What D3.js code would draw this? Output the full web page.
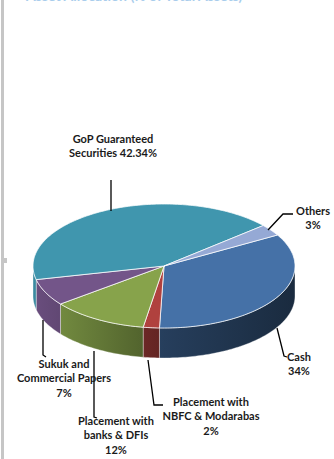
<!DOCTYPE html>
<html>
<head>
<meta charset="utf-8">
<script src="https://cdn.jsdelivr.net/npm/d3@7"></script>
<style>
  body { margin: 0; background: #fff; }
  text { font-family: Lato, "Open Sans", sans-serif; font-weight: bold; font-size: 11px; fill: #1a1a1a; }
</style>
</head>
<body>
<svg width="334" height="459"></svg>
<script>
// asset allocation
const categories = ["Cash", "Placement with NBFC & Modarabas", "Placement with banks & DFIs",
    "Sukuk and Commercial Papers", "GoP Guaranteed Securities", "Others"];
const values = [34, 2, 12, 7, 42.34, 3];
const labelLines = [
    ["Cash", "34%"],
    ["Placement with", "NBFC & Modarabas", "2%"],
    ["Placement with", "banks & DFIs", "12%"],
    ["Sukuk and", "Commercial Papers", "7%"],
    ["GoP Guaranteed", "Securities 42.34%"],
    ["Others", "3%"]
];
const colors = ["#4571a7", "#b0413e", "#87a34b", "#735589", "#4096ae", "#95a9d5"];

const svg = d3.select("svg");
const width = +svg.attr("width");
const height = +svg.attr("height");

// page frame bits (title is cropped off at the top in the original)
svg.append("rect").attr("x", 1).attr("y", 0).attr("width", 3).attr("height", height).attr("fill", "#c6c6c6");
svg.append("rect").attr("x", 4).attr("y", 258).attr("width", 3).attr("height", 5).attr("fill", "#c6c6c6");
svg.append("text").attr("x", 26).attr("y", 0.8)
    .style("fill", "#a9cdec").style("font-size", "14px")
    .text("Asset Allocation (% of Total Assets)");

const cx = 164, cy = 266, rx = 131, ry = 62, depth = 30;
const startAngle = 60 * Math.PI / 180;

const pie = d3.pie().sort(null).value(d => d)
    .startAngle(startAngle).endAngle(startAngle + 2 * Math.PI);
const arcs = pie(values);

const pt = (a, dy = 0) => [cx + rx * Math.sin(a), cy - ry * Math.cos(a) + dy];
const arcPts = (a0, a1, dy = 0) => {
    const n = Math.max(2, Math.ceil(Math.abs(a1 - a0) / 0.02));
    return d3.range(n + 1).map(i => pt(a0 + (a1 - a0) * i / n, dy));
};

// side gradients, lighter on the left, darker on the right
const defs = svg.append("defs");
colors.forEach((c, i) => {
    const base = d3.rgb(c);
    const shade = f => d3.rgb(base.r * f, base.g * f, base.b * f).formatHex();
    const grad = defs.append("linearGradient")
        .attr("id", "side" + i)
        .attr("gradientUnits", "userSpaceOnUse")
        .attr("x1", cx - rx).attr("x2", cx + rx).attr("y1", 0).attr("y2", 0);
    [[0, 0.92], [0.5, 0.55], [1, 0.38]].forEach(([o, f]) =>
        grad.append("stop").attr("offset", o).attr("stop-color", shade(f)));
});

// visible (front) part of each slice side
const sides = svg.append("g");
arcs.forEach((d, i) => {
    const lo = Math.PI / 2, hi = 3 * Math.PI / 2;
    for (const off of [0, 2 * Math.PI]) {
        const a0 = Math.max(d.startAngle, lo + off);
        const a1 = Math.min(d.endAngle, hi + off);
        if (a1 <= a0) continue;
        const top = arcPts(a0, a1);
        const bottom = arcPts(a1, a0, depth);
        sides.append("path")
            .attr("d", "M" + top.concat(bottom).map(p => p.join(",")).join("L") + "Z")
            .attr("fill", `url(#side${i})`)
            .attr("stroke", "rgba(255,255,255,0.45)")
            .attr("stroke-width", 0.8);
    }
});

// top faces
svg.append("g").selectAll("path")
    .data(arcs)
    .join("path")
    .attr("d", d => "M" + [[cx, cy]].concat(arcPts(d.startAngle, d.endAngle)).map(p => p.join(",")).join("L") + "Z")
    .attr("fill", (d, i) => colors[i])
    .attr("stroke", "rgba(255,255,255,0.75)")
    .attr("stroke-width", 1);

// leader lines and labels
const leaders = [
    [[277, 328], [284, 356], [287, 357]],
    [[148, 360], [154, 405], [163, 405]],
    [[94, 351], [94, 417], [97, 418]],
    [[43, 320], [43, 355], [46, 357]],
    [[111, 180], [111, 211]],
    [[268, 230], [283, 214], [293, 214]]
];
const labelPos = [[299, 361], [211, 406], [116, 425], [64, 368], [113, 143], [313, 215]];

svg.append("g").selectAll("polyline")
    .data(leaders)
    .join("polyline")
    .attr("points", d => d.map(p => p.join(",")).join(" "))
    .attr("fill", "none")
    .attr("stroke", "#000")
    .attr("stroke-width", 1.3);

const lbl = svg.append("g").selectAll("text")
    .data(categories)
    .join("text")
    .attr("text-anchor", "middle")
    .attr("x", (d, i) => labelPos[i][0])
    .attr("y", (d, i) => labelPos[i][1]);
lbl.selectAll("tspan")
    .data((d, i) => labelLines[i].map(t => ({ t, x: labelPos[i][0] })))
    .join("tspan")
    .attr("x", d => d.x)
    .attr("dy", (d, j) => j === 0 ? 0 : 14.3)
    .text(d => d.t);
</script>
</body>
</html>
